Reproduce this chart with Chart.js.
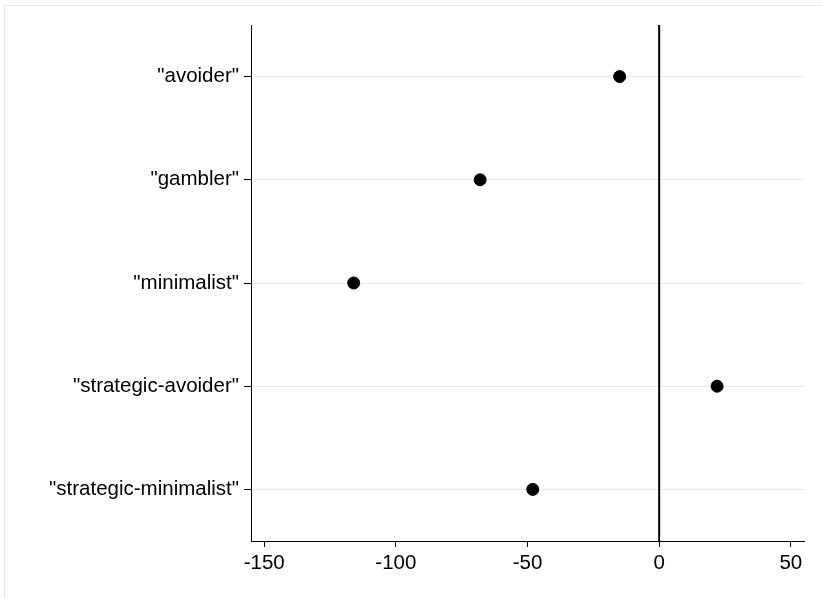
<!DOCTYPE html>
<html>
<head>
<meta charset="utf-8">
<script src="https://cdn.jsdelivr.net/npm/chart.js@4.4.1/dist/chart.umd.min.js"></script>
<style>
  html, body { margin: 0; padding: 0; background: #fff; }
  #wrap { position: relative; width: 822px; height: 598px; }
  #frame { position: absolute; left: 4px; top: 5px; width: 830px; height: 600px; border: 1px solid #e6e9eb; box-sizing: border-box; pointer-events: none; }
</style>
</head>
<body>
<div id="wrap">
  <canvas id="chart" width="822" height="598"></canvas>
  <div id="frame"></div>
</div>
<script>
// datos
const categorias = ['"avoider"', '"gambler"', '"minimalist"', '"strategic-avoider"', '"strategic-minimalist"'];
const valores = [-15, -68, -116, 22, -48];
const ticksX = [-150, -100, -50, 0, 50];

const puntos = valores.map((v, i) => ({ x: v, y: i + 1 }));

const ctx = document.getElementById('chart').getContext('2d');
const chart = new Chart(ctx, {
    type: 'scatter',
    data: {
        datasets: [{
            data: puntos,
            backgroundColor: '#000',
            borderColor: '#000',
            pointRadius: 6,
            pointHoverRadius: 6
        }, {
            // linea vertical en cero
            data: [{ x: 0, y: 0.5 }, { x: 0, y: categorias.length + 0.5 }],
            showLine: true,
            borderColor: '#000',
            borderWidth: 2,
            pointRadius: 0
        }]
    },
    options: {
        responsive: false,
        animation: false,
        layout: { padding: { left: 0, right: 18, top: 25, bottom: 0 } },
        plugins: { legend: { display: false }, tooltip: { enabled: false } },
        scales: {
            x: {
                type: 'linear',
                min: -155,
                max: 55,
                afterBuildTicks: s => { s.ticks = ticksX.map(v => ({ value: v })); },
                afterFit: s => { s.height = 57; },
                grid: { drawOnChartArea: false, drawTicks: true, tickLength: 6, tickColor: '#000' },
                border: { display: true, color: '#000', width: 1 },
                ticks: {
                    padding: 4,
                    color: '#000',
                    font: { family: 'Liberation Sans', size: 20.5 },
                    maxRotation: 0
                }
            },
            y: {
                type: 'linear',
                reverse: true,
                min: 0.5,
                max: categorias.length + 0.5,
                afterBuildTicks: s => { s.ticks = categorias.map((c, i) => ({ value: i + 1 })); },
                afterFit: s => { s.width = 251; },
                grid: { color: '#e3edf1', drawTicks: true, tickLength: 7, tickColor: '#000' },
                border: { display: true, color: '#000', width: 1 },
                ticks: {
                    padding: 5,
                    color: '#000',
                    font: { family: 'Liberation Sans', size: 20.5 },
                    callback: v => categorias[v - 1]
                }
            }
        }
    }
});
</script>
</body>
</html>
